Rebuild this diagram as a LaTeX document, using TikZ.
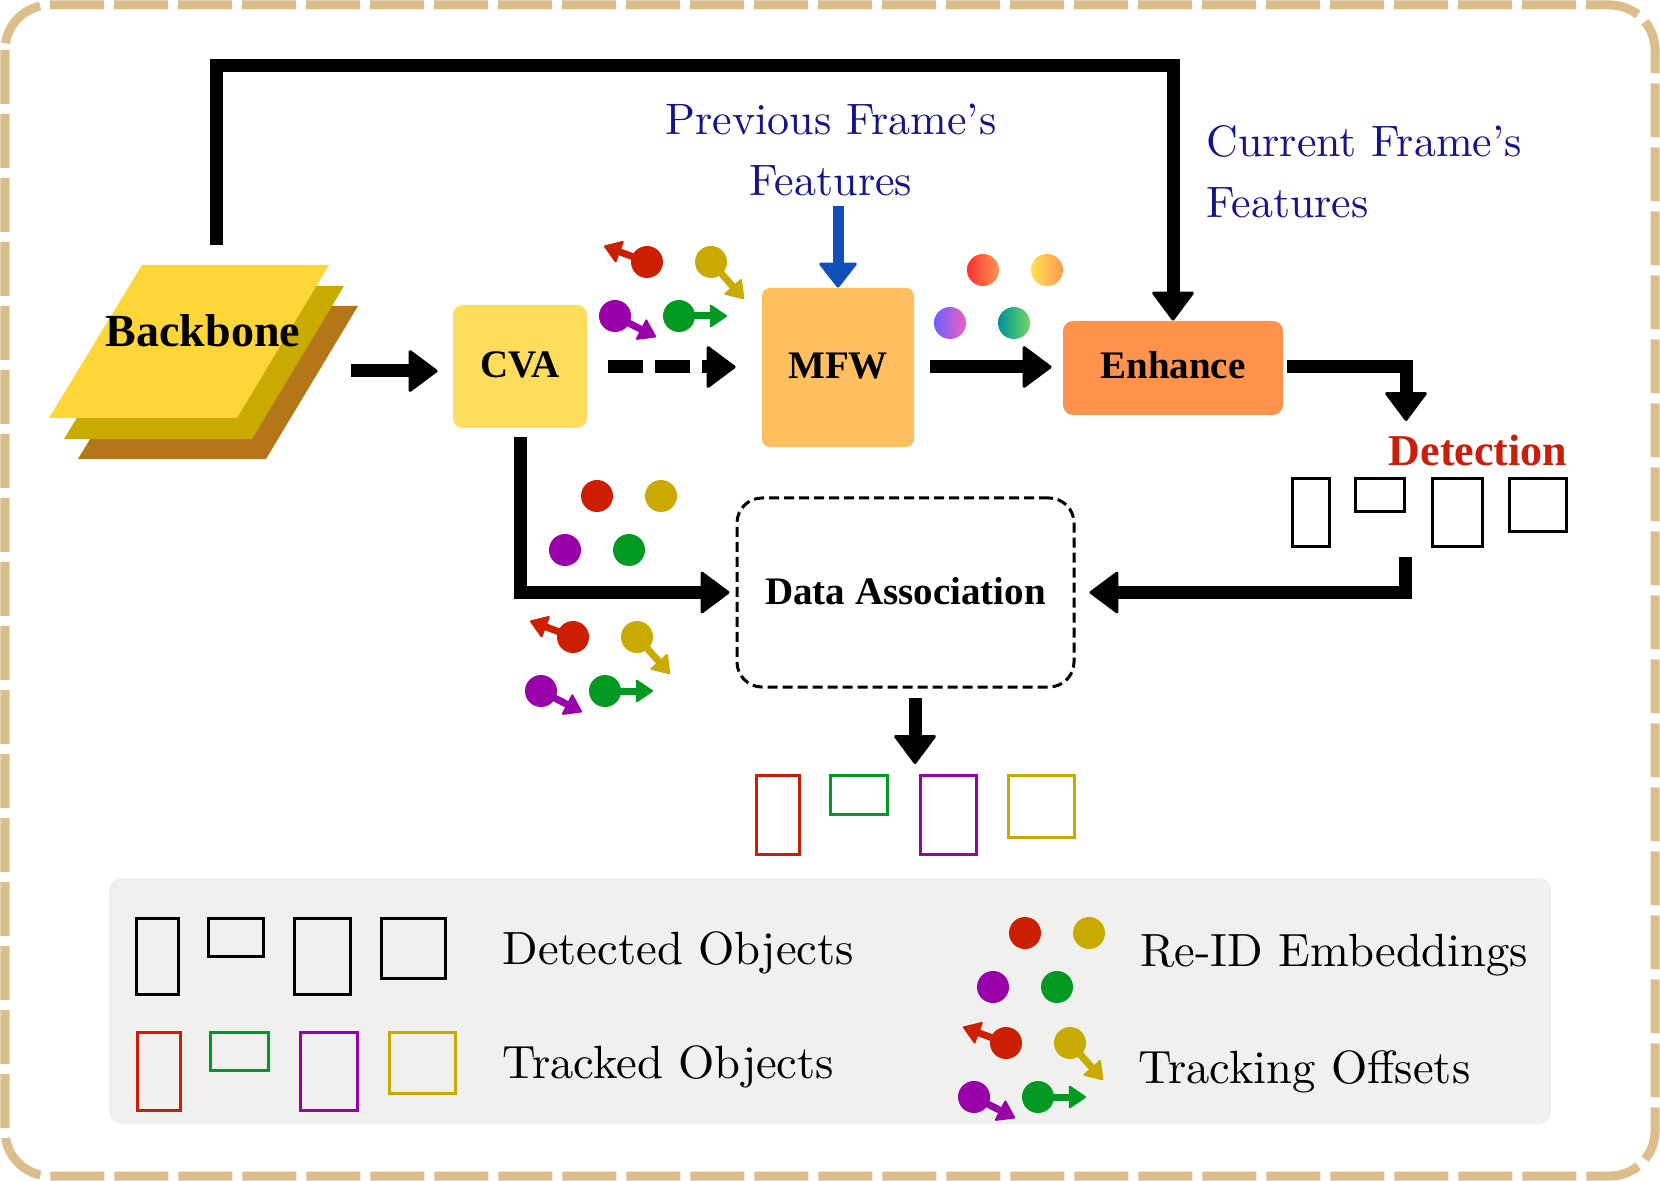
\documentclass[tikz,border=0pt]{standalone}
\usepackage{fontspec}
\newfontfamily\tms{Liberation Serif}
\newfontfamily\lmten{lmroman10-regular}[Extension=.otf]
\usetikzlibrary{arrows.meta}
\definecolor{bbFront}{RGB}{255,214,55}
\definecolor{bbMid}{RGB}{200,170,0}
\definecolor{bbBack}{RGB}{181,118,26}
\definecolor{cvaC}{RGB}{255,221,92}
\definecolor{mfwC}{RGB}{255,191,94}
\definecolor{enhC}{RGB}{255,147,76}
\definecolor{cR}{RGB}{204,30,0}
\definecolor{cY}{RGB}{200,170,0}
\definecolor{cP}{RGB}{153,0,170}
\definecolor{cG}{RGB}{0,153,34}
\definecolor{legBG}{RGB}{240,240,238}
\definecolor{frameC}{RGB}{220,190,140}
\definecolor{navyC}{RGB}{21,21,138}
\definecolor{blueA}{RGB}{16,80,184}
\definecolor{detC}{RGB}{200,30,10}
\begin{document}
\begin{tikzpicture}[x=0.5pt,y=-0.5pt,
  arr/.style={line width=6.5pt,-{Triangle[length=15pt,width=22pt,round,line width=1.5pt]}},
  sarr/.style={line width=3.5pt,-{Triangle[length=9pt,width=12pt,round,line width=1pt]}},
  lbl/.style={font=\tms\bfseries\fontsize{19.5}{22}\selectfont, text=black},
  legtxt/.style={anchor=west, inner sep=0pt, font=\lmten\fontsize{23.3}{27}\selectfont},
  bluetxt/.style={text=navyC, inner sep=0pt, font=\lmten\fontsize{22}{30.5}\selectfont},
  dbox/.style={line width=1.5pt},
  reid/.pic={
    \fill[cR] (0,0) circle[radius=16];
    \fill[cY] (64,0) circle[radius=16];
    \fill[cP] (-32,54) circle[radius=16];
    \fill[cG] (32,54) circle[radius=16];
  },
  offs/.pic={
    \draw[cR,sarr] (0,0) -- (-43,-16);
    \fill[cR] (0,0) circle[radius=16];
    \draw[cY,sarr] (64,0) -- (97,37);
    \fill[cY] (64,0) circle[radius=16];
    \draw[cP,sarr] (-32,54) -- (9,75);
    \fill[cP] (-32,54) circle[radius=16];
    \draw[cG,sarr] (32,54) -- (80,54);
    \fill[cG] (32,54) circle[radius=16];
  }
]
\useasboundingbox (0,0) rectangle (1660,1181);
% outer frame
\draw[frameC, line width=4.5pt, rounded corners=22.5pt, dash pattern=on 27pt off 5pt] (5,5) rectangle (1655,1176);

% backbone layers
\fill[bbBack] (171,306) -- (358,306) -- (266,459) -- (78,459) -- cycle;
\fill[bbMid] (157,286) -- (344,286) -- (252,439) -- (64,439) -- cycle;
\fill[bbFront] (142,265) -- (329,265) -- (237,418) -- (49,418) -- cycle;
\node[lbl, font=\tms\bfseries\fontsize{23}{26}\selectfont] (bb) at (203,331) {Backbone};
\coordinate (bbtop) at (216,245);
\coordinate (bbout) at (351,371);
\coordinate (tl) at (216,66);

% main boxes
\node[lbl, fill=cvaC, rounded corners=5pt, minimum width=67pt, minimum height=61.5pt] (cva) at (520,366.5) {\raisebox{1.6pt}{CVA}};
\node[lbl, fill=mfwC, rounded corners=4pt, minimum width=76pt, minimum height=79.5pt] (mfw) at (838,367.5) {\raisebox{1.6pt}{MFW}};
\node[lbl, fill=enhC, rounded corners=5pt, minimum width=110pt, minimum height=47pt] (enh) at (1173,368) {\raisebox{2.6pt}{Enhance}};
\node[lbl, draw, line width=1.5pt, dash pattern=on 5pt off 2.5pt, rounded corners=12.5pt, minimum width=168.5pt, minimum height=94.5pt] (da) at (905.5,592.5) {\raisebox{1.6pt}{Data Association}};
\node[lbl, text=detC, font=\tms\bfseries\fontsize{22}{26}\selectfont] (det) at (1478,450) {Detection};

% texts
\node[bluetxt, align=center] (prev) at (831,150) {Previous Frame’s\\Features};
\node[bluetxt, align=left, anchor=west] (curr) at (1206,172) {Current Frame’s\\Features};
\coordinate (pf) at (838,206);

% connectors
\draw[arr] (bbtop) -- (tl) -| (enh.north);
\draw[arr] (bbout) -- ([xshift=-7.5pt]cva.west |- bbout);
\draw[arr, dash pattern=on 17.5pt off 6pt, shorten <=10.5pt, shorten >=13pt] (cva.east |- 0,367) -- (mfw.west |- 0,367);
\draw[arr, shorten <=8pt, shorten >=5.5pt] (mfw.east |- 0,367) -- (enh.west |- 0,367);
\draw[blueA, line width=5.5pt, -{Triangle[length=13pt,width=20pt,round,line width=1.5pt]}] (pf) -- (mfw.north);
\coordinate (detin) at (1406,421);
\draw[arr, shorten <=2pt] (enh.east |- 0,367) -| (detin);
\coordinate (detout) at (1405,557);
\draw[arr, shorten >=7pt] (detout) |- (da.east);
\draw[arr, shorten <=4.5pt, shorten >=3pt] (cva.south) |- (da.west);
\coordinate (daout) at (915,687);
\coordinate (outin) at (915,764);
\draw[arr, shorten <=5.5pt] (daout) -- (outin);

% feature dots
\pic at (647,262) {offs};
\pic at (597,496) {reid};
\pic at (573,637) {offs};
\shade[left color={rgb,255:red,255;green,48;blue,48}, right color={rgb,255:red,255;green,150;blue,80}] (983,270) circle[radius=16];
\shade[left color={rgb,255:red,255;green,224;blue,80}, right color={rgb,255:red,255;green,154;blue,80}] (1047,270) circle[radius=16];
\shade[left color={rgb,255:red,106;green,96;blue,255}, right color={rgb,255:red,240;green,96;blue,192}] (950,323) circle[radius=16];
\shade[left color={rgb,255:red,0;green,144;blue,154}, right color={rgb,255:red,112;green,216;blue,96}] (1014,323) circle[radius=16];

% detection boxes
\draw[dbox] (1292,479) rectangle (1329,547);
\draw[dbox] (1355,479) rectangle (1404,512);
\draw[dbox] (1432,479) rectangle (1482,547);
\draw[dbox] (1509,479) rectangle (1566,532);

% tracked output boxes
\draw[dbox, cR] (756,775) rectangle (799,854);
\draw[dbox, cG] (830,775) rectangle (887,814);
\draw[dbox, cP] (920,775) rectangle (976,854);
\draw[dbox, cY] (1008,775) rectangle (1074,837);

% legend
\fill[legBG, rounded corners=6pt] (109,878) rectangle (1551,1124);
\draw[dbox] (136,918) rectangle (178,994);
\draw[dbox] (208,918) rectangle (263,956);
\draw[dbox] (294,918) rectangle (350,994);
\draw[dbox] (381,918) rectangle (445,978);
\draw[dbox, cR] (137,1032) rectangle (180,1110);
\draw[dbox, cG] (210,1032) rectangle (268,1070);
\draw[dbox, cP] (300,1032) rectangle (357,1110);
\draw[dbox, cY] (389,1032) rectangle (455,1093);
\node[legtxt] (l1) at (502,953) {Detected Objects};
\node[legtxt] (l2) at (502,1067) {Tracked Objects};
\node[legtxt] (l3) at (1140,955) {Re-ID Embeddings};
\node[legtxt] (l4) at (1138,1072) {Tracking Offsets};
\pic at (1025,933) {reid};
\pic at (1006,1043) {offs};
\end{tikzpicture}
\end{document}
